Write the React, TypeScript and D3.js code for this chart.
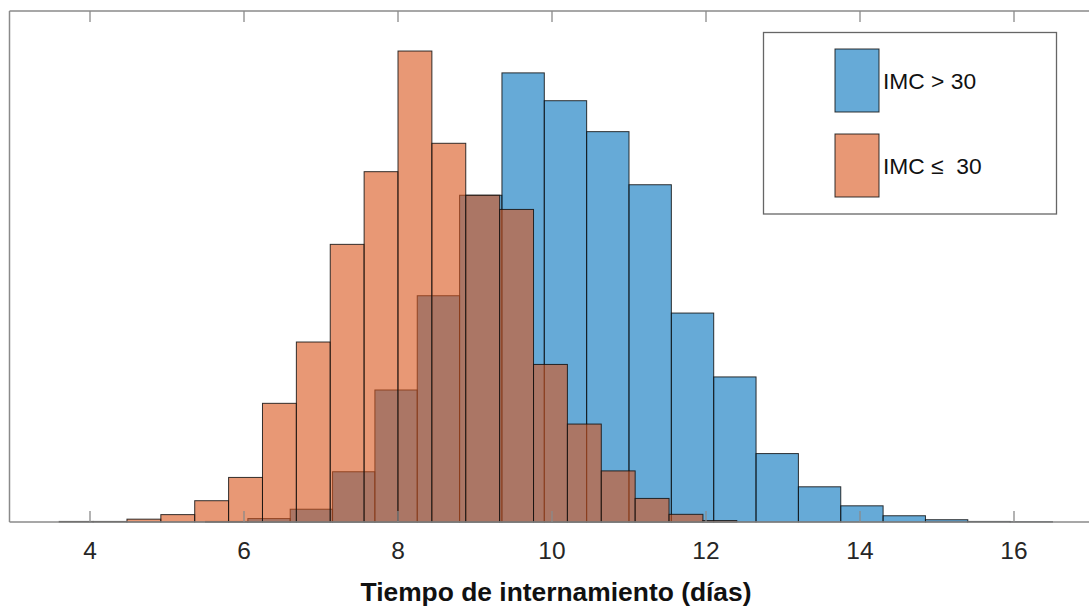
import React from 'react';
import * as d3 from 'd3';

// histogram bin edges (días) and normalized heights (probability)
const imcHighEdges = [5.5, 6.05, 6.6, 7.15, 7.7, 8.25, 8.8, 9.35, 9.9, 10.45, 11.0, 11.55, 12.1, 12.65, 13.2, 13.75, 14.3, 14.85, 15.4, 15.95, 16.5];
const imcHighValues = [0.0002, 0.0012, 0.0045, 0.0177, 0.0465, 0.0797, 0.1151, 0.1582, 0.1484, 0.1375, 0.1188, 0.0736, 0.0511, 0.0241, 0.0124, 0.0057, 0.0022, 0.0008, 0.0002, 0.0001];

const imcLowEdges = [3.6, 4.04, 4.48, 4.92, 5.36, 5.8, 6.24, 6.68, 7.12, 7.56, 8.0, 8.44, 8.88, 9.32, 9.76, 10.2, 10.64, 11.08, 11.52, 11.96, 12.4];
const imcLowValues = [0.0002, 0.0002, 0.001, 0.0026, 0.0075, 0.0157, 0.0418, 0.0634, 0.0978, 0.1234, 0.1659, 0.1334, 0.1151, 0.1101, 0.0555, 0.0345, 0.018, 0.0083, 0.0027, 0.0005];

const xTicks = [4, 6, 8, 10, 12, 14, 16];
const seriesLabels = ['IMC > 30', 'IMC \u2264  30'];
const seriesColors = ['#0072BD', '#D95319'];
const xLabel = 'Tiempo de internamiento (días)';

const W = 1089;
const H = 607;
const frame = { left: 9.5, top: 11, bottom: 522, right: 1095 };
const font = '"Liberation Sans", Arial, Helvetica, sans-serif';

export default function App() {
  const x = d3.scaleLinear().domain([4, 16]).range([90, 1014]);
  const y = d3.scaleLinear().domain([0, 0.18]).range([frame.bottom, frame.top]);

  const series = [
    { edges: imcHighEdges, values: imcHighValues, color: seriesColors[0] },
    { edges: imcLowEdges, values: imcLowValues, color: seriesColors[1] },
  ];

  const axisColor = '#8a8a8a';
  const tickLen = 11;

  return (
    <svg
      width={W}
      height={H}
      style={{ position: 'absolute', left: 0, top: 0, background: '#fff' }}
      fontFamily={font}
    >
      <rect x={0} y={0} width={W} height={H} fill="#fff" />

      {/* bars: blue first, orange drawn over it */}
      {series.map((s, si) => (
        <g key={si}>
          {s.values.map((v, i) => {
            const x0 = x(s.edges[i]);
            const x1 = x(s.edges[i + 1]);
            return (
              <rect
                key={i}
                x={x0}
                y={y(v)}
                width={x1 - x0}
                height={y(0) - y(v)}
                fill={s.color}
                fillOpacity={0.6}
                stroke="#111"
                strokeOpacity={0.85}
                strokeWidth={1}
              />
            );
          })}
        </g>
      ))}

      {/* axes box */}
      <line x1={frame.left} x2={frame.right} y1={frame.top} y2={frame.top} stroke={axisColor} strokeWidth={1.5} />
      <line x1={frame.left} x2={frame.right} y1={frame.bottom} y2={frame.bottom} stroke={axisColor} strokeWidth={1.5} />
      <line x1={frame.left} x2={frame.left} y1={frame.top} y2={frame.bottom} stroke={axisColor} strokeWidth={1.5} />

      {xTicks.map(t => (
        <g key={t}>
          <line x1={x(t)} x2={x(t)} y1={frame.bottom} y2={frame.bottom - tickLen} stroke={axisColor} strokeWidth={1.3} />
          <line x1={x(t)} x2={x(t)} y1={frame.top} y2={frame.top + tickLen} stroke={axisColor} strokeWidth={1.3} />
          <text x={x(t)} y={559} textAnchor="middle" fontSize={24.5} fill="#262626">
            {t}
          </text>
        </g>
      ))}

      <text x={556} y={601} textAnchor="middle" fontSize={26.4} fontWeight="bold" fill="#111">
        {xLabel}
      </text>

      {/* legend */}
      <g>
        <rect x={763.5} y={32.5} width={293} height={181.5} fill="#fff" stroke="#666" strokeWidth={1.3} />
        {seriesLabels.map((label, i) => {
          const top = 49 + i * 85;
          return (
            <g key={label}>
              <rect
                x={835}
                y={top}
                width={44}
                height={63}
                fill={seriesColors[i]}
                fillOpacity={0.6}
                stroke="#111"
                strokeOpacity={0.85}
                strokeWidth={1}
              />
              <text x={883} y={top + 40} fontSize={22.8} fill="#111" style={{ whiteSpace: 'pre' }}>
                {label}
              </text>
            </g>
          );
        })}
      </g>
    </svg>
  );
}
